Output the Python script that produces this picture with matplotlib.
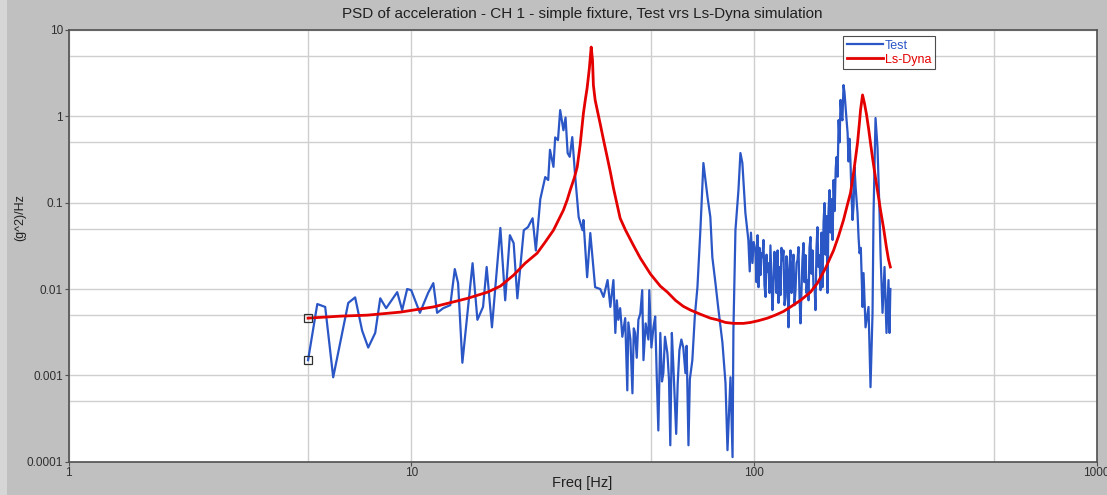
import matplotlib
matplotlib.use('Agg')
import matplotlib.pyplot as plt
from matplotlib.ticker import FixedLocator, FixedFormatter, NullFormatter
from matplotlib.patches import Rectangle

# ---------------- data ----------------
test_freq = [5.0, 5.32, 5.61, 5.92, 6.55, 6.86, 7.19, 7.49, 7.85, 8.12, 8.45, 9.10, 9.41, 9.73, 10.0,
             10.6, 11.2, 11.6, 11.9, 12.4, 13.0, 13.4, 13.7, 14.1, 15.1, 15.6, 16.2, 16.6, 17.2, 18.2,
             18.8, 19.4, 19.9, 20.4, 21.3, 21.9, 22.6, 23.1, 23.8, 24.6, 25.1, 25.4, 26.0, 26.3, 26.8,
             27.2, 27.8, 28.2, 28.6, 29.0, 29.5, 30.1, 30.8, 31.6, 31.8, 32.6, 33.3, 34.4, 35.6, 36.4,
             37.4, 38.1, 38.9, 39.4, 39.8, 40.2, 40.7, 41.3, 42.1, 42.7, 43.0, 43.6, 44.2, 44.6, 45.0,
             45.5, 46.0, 46.6, 47.2, 47.6, 48.3, 49.2, 49.5, 50.2, 50.9, 51.5, 52.0, 52.6, 53.3, 53.9,
             54.4, 55.0, 55.9, 56.5, 57.0, 57.6, 58.2, 59.3, 59.9, 60.6, 61.4, 62.2, 63.1, 63.6, 64.4,
             65.0, 66.1, 67.2, 68.4, 69.8, 71.2, 73.2, 74.6, 75.6, 77.2, 78.8, 80.9, 82.6, 83.7, 85.4,
             86.6, 87.1, 88.3, 90.1, 91.3, 92.5, 94.4, 96.3, 97.2, 98.0, 99.0, 99.8, 101.0, 101.7, 102.4,
             103.1, 103.8, 104.5, 105.2, 105.9, 106.6, 107.3, 108.1, 108.8, 109.5, 110.3, 111.0, 111.7, 112.4, 113.2,
             114.0, 114.7, 115.5, 116.3, 117.2, 117.9, 118.7, 119.5, 120.3, 121.1, 121.9, 122.8, 123.6, 124.4, 125.3,
             126.1, 127.0, 127.8, 128.7, 129.5, 130.4, 131.3, 132.2, 133.1, 134.0, 134.9, 135.8, 136.7, 137.6, 138.5,
             139.5, 140.4, 141.4, 142.3, 143.3, 144.3, 145.2, 146.2, 147.2, 148.2, 149.2, 150.2, 151.2, 152.2, 153.2,
             154.2, 155.3, 156.4, 157.4, 158.5, 159.6, 160.7, 161.8, 162.8, 163.9, 165.0, 166.2, 167.3, 168.4, 169.6,
             170.7, 172.0, 173.2, 174.2, 175.4, 176.6, 177.8, 178.9, 180.0, 181.2, 182.5, 183.7, 185.0, 186.3, 187.6,
             188.8, 190.0, 191.3, 192.6, 193.9, 195.2, 196.5, 198.0, 200.5, 201.9, 203.2, 205.0, 207.4, 208.8, 211.6,
             215.9, 218.8, 221.8, 223.3, 226.3, 229.3, 232.5, 234.0, 237.2, 240.4, 243.6, 246.9, 248.6, 250.0]
test_psd = [0.0015, 0.0067, 0.0062, 0.00095, 0.0069, 0.0080, 0.0033, 0.0021, 0.0031, 0.0078, 0.0060, 0.0092, 0.0057, 0.0100, 0.0097,
            0.0053, 0.0090, 0.0117, 0.0053, 0.0060, 0.0065, 0.0170, 0.0117, 0.0014, 0.0199, 0.0044, 0.0062, 0.0180, 0.0036, 0.051,
            0.0074, 0.042, 0.034, 0.0078, 0.048, 0.052, 0.066, 0.028, 0.11, 0.198, 0.183, 0.41, 0.26, 0.57, 0.53,
            1.18, 0.69, 0.97, 0.375, 0.34, 0.575, 0.198, 0.068, 0.048, 0.063, 0.0137, 0.0445, 0.0105, 0.0100, 0.0081,
            0.0127, 0.0062, 0.0127, 0.0031, 0.0074, 0.0044, 0.0060, 0.0028, 0.0046, 0.00067, 0.0041, 0.0026, 0.00062, 0.0035, 0.0031,
            0.0016, 0.0044, 0.0052, 0.0097, 0.0015, 0.0040, 0.0026, 0.0097, 0.0021, 0.0036, 0.0048, 0.0011, 0.00023, 0.0031, 0.00085,
            0.00106, 0.0028, 0.0018, 0.0009, 0.000155, 0.0031, 0.00125, 0.00021, 0.0008, 0.00196, 0.0026, 0.0021, 0.00106, 0.0022, 0.000155,
            0.0009, 0.0015, 0.0048, 0.0105, 0.050, 0.288, 0.116, 0.068, 0.0234, 0.0117, 0.0057, 0.0024, 0.00081, 0.000136, 0.00095,
            0.000113, 0.0033, 0.048, 0.140, 0.376, 0.288, 0.076, 0.037, 0.016, 0.045, 0.020, 0.035, 0.028, 0.012, 0.042,
            0.0105, 0.030, 0.0145, 0.026, 0.0234, 0.037, 0.011, 0.0081, 0.025, 0.0157, 0.0199, 0.009, 0.032, 0.014, 0.0057,
            0.0111, 0.027, 0.0199, 0.009, 0.028, 0.0069, 0.018, 0.0085, 0.030, 0.0216, 0.028, 0.0065, 0.0081, 0.024, 0.0145,
            0.0036, 0.019, 0.028, 0.009, 0.0166, 0.025, 0.0065, 0.0097, 0.020, 0.0216, 0.0306, 0.008, 0.0040, 0.0097, 0.022,
            0.0341, 0.012, 0.0247, 0.009, 0.0127, 0.0074, 0.030, 0.040, 0.015, 0.028, 0.010, 0.0111, 0.0057, 0.030, 0.052,
            0.018, 0.0247, 0.0097, 0.045, 0.0105, 0.060, 0.099, 0.025, 0.070, 0.0090, 0.080, 0.140, 0.045, 0.110, 0.037,
            0.183, 0.08, 0.25, 0.338, 0.20, 0.906, 0.5, 1.55, 1.0, 0.9, 2.30, 1.9, 1.28, 0.9, 0.64,
            0.3, 0.55, 0.288, 0.12, 0.063, 0.09, 0.259, 0.15, 0.076, 0.04, 0.026, 0.03, 0.0062, 0.0153, 0.0036,
            0.0062, 0.00073, 0.0053, 0.076, 0.956, 0.441, 0.076, 0.026, 0.0053, 0.018, 0.0031, 0.0127, 0.0031, 0.0100]

dyna_freq = [5.0, 6.2, 7.44, 9.29, 11.6, 14.6, 16.7, 18.2, 19.9, 21.5, 23.3, 24.6, 26.0, 26.9, 27.8,
             28.5, 29.1, 29.9, 30.5, 31.1, 31.8, 32.2, 32.6, 33.1, 33.5, 33.8, 34.0, 34.4, 34.9, 35.6,
             36.4, 37.3, 38.1, 38.9, 39.9, 40.7, 42.2, 44.5, 46.6, 49.9, 53.3, 55.9, 59.0, 62.2, 65.3,
             69.8, 74.6, 78.2, 82.6, 87.1, 93.2, 97.7, 103.1, 109.5, 115.6, 121.9, 127.8, 136.7, 146.2, 153.2,
             161.8, 170.7, 176.5, 182.5, 187.5, 191.3, 195.2, 197.9, 200.6, 203.2, 204.6, 207.4, 210.2, 213.1, 215.9,
             218.8, 221.8, 226.3, 230.9, 234.0, 238.8, 243.6, 246.9, 250.0]
dyna_psd = [0.0046, 0.00485, 0.00498, 0.0054, 0.0062, 0.0078, 0.0092, 0.0108, 0.0145, 0.0199, 0.026, 0.035, 0.048, 0.063, 0.082,
            0.107, 0.140, 0.193, 0.259, 0.465, 1.09, 1.55, 2.13, 3.63, 6.35, 4.49, 2.30, 1.55, 1.18, 0.815,
            0.531, 0.338, 0.227, 0.148, 0.094, 0.066, 0.048, 0.032, 0.0228, 0.0149, 0.0108, 0.0092, 0.0074, 0.0063, 0.0057,
            0.0051, 0.0046, 0.0044, 0.0041, 0.0040, 0.0040, 0.0041, 0.0043, 0.0046, 0.0050, 0.0055, 0.0062, 0.0074, 0.0092, 0.0117,
            0.0175, 0.028, 0.041, 0.063, 0.096, 0.13, 0.22, 0.33, 0.50, 0.86, 1.18, 1.77, 1.40, 1.04, 0.73,
            0.49, 0.33, 0.193, 0.116, 0.082, 0.051, 0.030, 0.022, 0.018]

series_names = ['Test', 'Ls-Dyna']
x_ticks = [1, 10, 100, 1000]
x_tick_labels = ['1', '10', '100', '1000']
y_ticks = [0.0001, 0.001, 0.01, 0.1, 1, 10]
y_tick_labels = ['0.0001', '0.001', '0.01', '0.1', '1', '10']
x_grid_extra = [5, 50, 500]
y_grid_extra = [0.0005, 0.005, 0.05, 0.5, 5]

title_text = 'PSD of acceleration - CH 1 - simple fixture, Test vrs Ls-Dyna simulation'
x_label = 'Freq [Hz]'
y_label = '(g^2)/Hz'

# ---------------- styling ----------------
plt.rcParams['font.family'] = ['Liberation Sans', 'DejaVu Sans']
W, H = 1107, 495
bg = '#c0c0c0'
blue = '#2a56c6'
red = '#e50000'
grid_c = '#cfcfcf'
spine_c = '#505050'

fig = plt.figure(figsize=(W / 100, H / 100), dpi=100, facecolor=bg)
fig.patches.append(Rectangle((0, 0), 7 / W, 1, transform=fig.transFigure,
                             facecolor='#d6d6d6', edgecolor='none', zorder=0))

left, right, top, bottom = 68.5, 1096.7, 30, 461.7
ax = fig.add_axes([left / W, 1 - bottom / H, (right - left) / W, (bottom - top) / H])
ax.set_facecolor('white')
ax.set_xscale('log')
ax.set_yscale('log')
ax.set_xlim(x_ticks[0], x_ticks[-1])
ax.set_ylim(y_ticks[0], y_ticks[-1])

ax.xaxis.set_major_locator(FixedLocator(x_ticks))
ax.xaxis.set_major_formatter(FixedFormatter(x_tick_labels))
ax.xaxis.set_minor_locator(FixedLocator(x_grid_extra))
ax.xaxis.set_minor_formatter(NullFormatter())
ax.yaxis.set_major_locator(FixedLocator(y_ticks))
ax.yaxis.set_major_formatter(FixedFormatter(y_tick_labels))
ax.yaxis.set_minor_locator(FixedLocator(y_grid_extra))
ax.yaxis.set_minor_formatter(NullFormatter())

ax.grid(True, which='both', color=grid_c, linewidth=1.0, zorder=0)
ax.set_axisbelow(True)
ax.tick_params(which='major', direction='out', length=3, width=0.8, color=spine_c,
               labelsize=8.5, labelcolor='#303030', pad=1)
ax.tick_params(which='minor', length=0)
for s in ax.spines.values():
    s.set_color(spine_c)
    s.set_linewidth(1.2)

ax.plot(test_freq, test_psd, color=blue, linewidth=1.6, label=series_names[0], zorder=3)
ax.plot(dyna_freq, dyna_psd, color=red, linewidth=2.0, label=series_names[1], zorder=4)
ax.plot(test_freq[0], test_psd[0], marker='s', markersize=6, markerfacecolor='none',
        markeredgecolor='#303030', markeredgewidth=0.9, linestyle='none', zorder=5)
ax.plot(dyna_freq[0], dyna_psd[0], marker='s', markersize=6, markerfacecolor='none',
        markeredgecolor='#303030', markeredgewidth=0.9, linestyle='none', zorder=5)

handles = ax.get_lines()[:2]
leg = ax.legend(handles, series_names, loc='upper left',
                bbox_to_anchor=((843 - left) / (right - left), (bottom - 36) / (bottom - top)),
                borderaxespad=0, frameon=True, fancybox=False, fontsize=9,
                handlelength=2.9, handletextpad=0.15, labelspacing=0.15, borderpad=0.3)
leg.get_frame().set_edgecolor('#202020')
leg.get_frame().set_linewidth(0.8)
for txt, ln in zip(leg.get_texts(), leg.get_lines()):
    txt.set_color(ln.get_color())

fig.text((left + right) / 2 / W, 1 - 14 / H, title_text, ha='center', va='center',
         fontsize=11, color='#202020')
fig.text((left + right) / 2 / W, 1 - 483 / H, x_label, ha='center', va='center',
         fontsize=10.5, color='#202020')
fig.text(20 / W, 1 - 218 / H, y_label, rotation=90, ha='center', va='center',
         fontsize=9, color='#202020')

fig.savefig('out.png', dpi=100, facecolor=fig.get_facecolor())
